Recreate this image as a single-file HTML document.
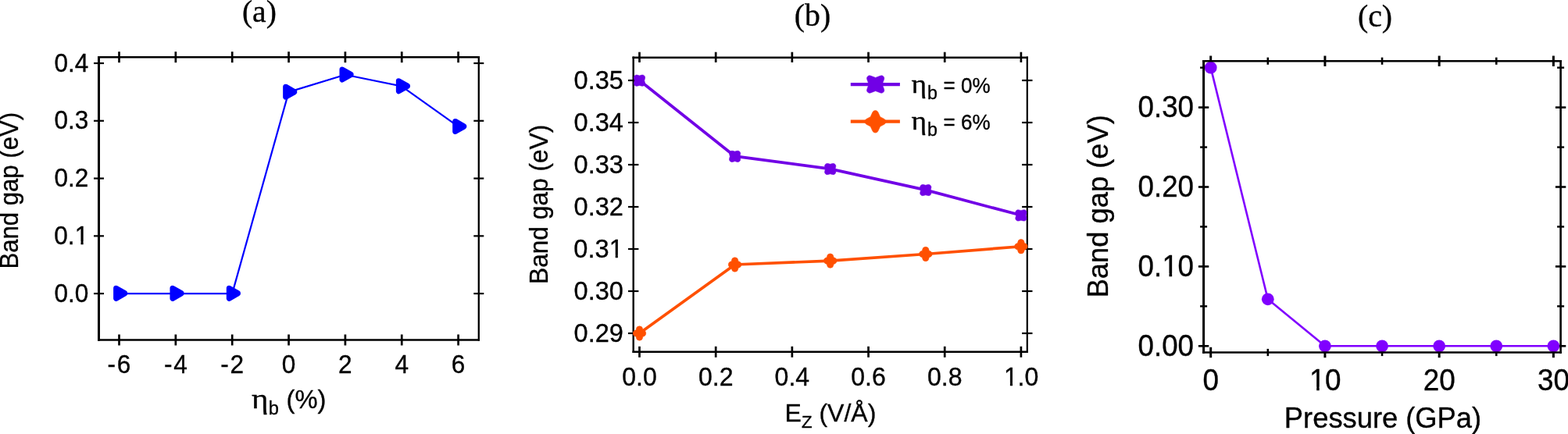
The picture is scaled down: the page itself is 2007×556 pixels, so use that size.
<!DOCTYPE html>
<html lang="en">
<head>
<meta charset="utf-8">
<title>Band gap figure</title>
<style>
html,body{margin:0;padding:0;background:#fff;}
body{width:2007px;height:556px;overflow:hidden;}
svg{display:block;}
text{fill:#000;stroke:#000;stroke-width:0.35px;stroke-linejoin:round;}
.s{font-family:"Liberation Sans", sans-serif;}
.r{font-family:"Liberation Serif", serif;}
</style>
</head>
<body>
<svg width="2007" height="556" viewBox="0 0 2007 556">
<rect x="0" y="0" width="2007" height="556" fill="#ffffff"/>
<g id="plot-a">
<text class="r" x="331.9" y="27.6" font-size="39.6" text-anchor="middle" >(a)</text>
<line x1="126.5" y1="71.9" x2="126.5" y2="436.75" stroke="#000" stroke-width="3" />
<line x1="612.8" y1="71.9" x2="612.8" y2="436.75" stroke="#000" stroke-width="2.3" />
<line x1="125" y1="73.2" x2="613.95" y2="73.2" stroke="#000" stroke-width="2.6" />
<line x1="125" y1="435.5" x2="613.95" y2="435.5" stroke="#000" stroke-width="2.5" />
<line x1="152.5" y1="66.2" x2="152.5" y2="80.2" stroke="#000" stroke-width="2.7" />
<line x1="152.5" y1="428.5" x2="152.5" y2="442.5" stroke="#000" stroke-width="2.7" />
<text class="s" transform="translate(152.5,478.2) scale(0.972,1)" font-size="32.5" text-anchor="middle" >-<tspan dx="1.8">6</tspan></text>
<line x1="224.85" y1="66.2" x2="224.85" y2="80.2" stroke="#000" stroke-width="2.7" />
<line x1="224.85" y1="428.5" x2="224.85" y2="442.5" stroke="#000" stroke-width="2.7" />
<text class="s" transform="translate(224.85,478.2) scale(0.972,1)" font-size="32.5" text-anchor="middle" >-<tspan dx="1.8">4</tspan></text>
<line x1="297.2" y1="66.2" x2="297.2" y2="80.2" stroke="#000" stroke-width="2.7" />
<line x1="297.2" y1="428.5" x2="297.2" y2="442.5" stroke="#000" stroke-width="2.7" />
<text class="s" transform="translate(297.2,478.2) scale(0.972,1)" font-size="32.5" text-anchor="middle" >-<tspan dx="1.8">2</tspan></text>
<line x1="369.55" y1="66.2" x2="369.55" y2="80.2" stroke="#000" stroke-width="2.7" />
<line x1="369.55" y1="428.5" x2="369.55" y2="442.5" stroke="#000" stroke-width="2.7" />
<text class="s" transform="translate(369.55,478.2) scale(0.972,1)" font-size="32.5" text-anchor="middle" >0</text>
<line x1="441.9" y1="66.2" x2="441.9" y2="80.2" stroke="#000" stroke-width="2.7" />
<line x1="441.9" y1="428.5" x2="441.9" y2="442.5" stroke="#000" stroke-width="2.7" />
<text class="s" transform="translate(441.9,478.2) scale(0.972,1)" font-size="32.5" text-anchor="middle" >2</text>
<line x1="514.25" y1="66.2" x2="514.25" y2="80.2" stroke="#000" stroke-width="2.7" />
<line x1="514.25" y1="428.5" x2="514.25" y2="442.5" stroke="#000" stroke-width="2.7" />
<text class="s" transform="translate(514.25,478.2) scale(0.972,1)" font-size="32.5" text-anchor="middle" >4</text>
<line x1="586.6" y1="66.2" x2="586.6" y2="80.2" stroke="#000" stroke-width="2.7" />
<line x1="586.6" y1="428.5" x2="586.6" y2="442.5" stroke="#000" stroke-width="2.7" />
<text class="s" transform="translate(586.6,478.2) scale(0.972,1)" font-size="32.5" text-anchor="middle" >6</text>
<line x1="120" y1="376.1" x2="133" y2="376.1" stroke="#000" stroke-width="2.2" />
<line x1="606.3" y1="376.1" x2="619.3" y2="376.1" stroke="#000" stroke-width="2.2" />
<text class="s" transform="translate(113.4,386.7) scale(0.972,1)" font-size="32.5" text-anchor="end" >0.0</text>
<line x1="120" y1="302.33" x2="133" y2="302.33" stroke="#000" stroke-width="2.2" />
<line x1="606.3" y1="302.33" x2="619.3" y2="302.33" stroke="#000" stroke-width="2.2" />
<text class="s" transform="translate(113.4,312.93) scale(0.972,1)" font-size="32.5" text-anchor="end" >0.<tspan dx="0.3">1</tspan></text>
<rect x="96.32" y="309.40" width="7.14" height="5.03" fill="#fff"/>
<rect x="106.65" y="309.40" width="6.89" height="5.03" fill="#fff"/>
<line x1="120" y1="228.56" x2="133" y2="228.56" stroke="#000" stroke-width="2.2" />
<line x1="606.3" y1="228.56" x2="619.3" y2="228.56" stroke="#000" stroke-width="2.2" />
<text class="s" transform="translate(113.4,239.16) scale(0.972,1)" font-size="32.5" text-anchor="end" >0.2</text>
<line x1="120" y1="154.79" x2="133" y2="154.79" stroke="#000" stroke-width="2.2" />
<line x1="606.3" y1="154.79" x2="619.3" y2="154.79" stroke="#000" stroke-width="2.2" />
<text class="s" transform="translate(113.4,165.39) scale(0.972,1)" font-size="32.5" text-anchor="end" >0.3</text>
<line x1="120" y1="81.02" x2="133" y2="81.02" stroke="#000" stroke-width="2.2" />
<line x1="606.3" y1="81.02" x2="619.3" y2="81.02" stroke="#000" stroke-width="2.2" />
<text class="s" transform="translate(113.4,91.62) scale(0.972,1)" font-size="32.5" text-anchor="end" >0.4</text>
<polyline points="152.5,376.1 224.85,376.1 297.2,376.1 369.55,117.91 441.9,95.77 514.25,110.53 586.6,162.17" fill="none" stroke="#0000ff" stroke-width="2.2" stroke-linejoin="round"/>
<path d="M148.6,369.35 L159.8,375.65 L159.8,376.05 L148.6,382.35 Z" fill="#0000ff" stroke="#0000ff" stroke-width="7" stroke-linejoin="round"/>
<path d="M220.95,369.35 L232.15,375.65 L232.15,376.05 L220.95,382.35 Z" fill="#0000ff" stroke="#0000ff" stroke-width="7" stroke-linejoin="round"/>
<path d="M293.3,369.35 L304.5,375.65 L304.5,376.05 L293.3,382.35 Z" fill="#0000ff" stroke="#0000ff" stroke-width="7" stroke-linejoin="round"/>
<path d="M365.65,111.16 L376.85,117.46 L376.85,117.86 L365.65,124.16 Z" fill="#0000ff" stroke="#0000ff" stroke-width="7" stroke-linejoin="round"/>
<path d="M438,89.02 L449.2,95.32 L449.2,95.72 L438,102.02 Z" fill="#0000ff" stroke="#0000ff" stroke-width="7" stroke-linejoin="round"/>
<path d="M510.35,103.78 L521.55,110.08 L521.55,110.48 L510.35,116.78 Z" fill="#0000ff" stroke="#0000ff" stroke-width="7" stroke-linejoin="round"/>
<path d="M582.7,155.42 L593.9,161.72 L593.9,162.12 L582.7,168.42 Z" fill="#0000ff" stroke="#0000ff" stroke-width="7" stroke-linejoin="round"/>
<text class="s" font-size="33" text-anchor="start" transform="translate(23,344.6) rotate(-90)" textLength="200.7" lengthAdjust="spacingAndGlyphs">Band gap (eV)</text>
<text class="r" transform="translate(321.9,523.3) scale(1.15,1)" font-size="35.6" text-anchor="start" stroke="none">η</text>
<text class="s" transform="translate(343.8,531.4) scale(0.96,1)" font-size="24.6" text-anchor="start" stroke-width="0.6">b</text>
<text class="s" transform="translate(366.6,523.3) scale(0.992,1)" font-size="33" text-anchor="start" >(%)</text>
</g>
<g id="plot-b">
<text class="r" x="1040" y="32.5" font-size="39.8" text-anchor="middle" >(b)</text>
<line x1="810.7" y1="72.5" x2="810.7" y2="452" stroke="#000" stroke-width="2.4" />
<line x1="1314.8" y1="72.5" x2="1314.8" y2="452" stroke="#000" stroke-width="2.2" />
<line x1="809.5" y1="73.7" x2="1315.9" y2="73.7" stroke="#000" stroke-width="2.4" />
<line x1="809.5" y1="450.8" x2="1315.9" y2="450.8" stroke="#000" stroke-width="2.4" />
<line x1="818.5" y1="66.7" x2="818.5" y2="79.9" stroke="#000" stroke-width="2.7" />
<line x1="818.5" y1="443.8" x2="818.5" y2="457.8" stroke="#000" stroke-width="2.7" />
<text class="s" transform="translate(818.5,493.9) scale(0.972,1)" font-size="33" text-anchor="middle" >0.0</text>
<line x1="916.18" y1="66.7" x2="916.18" y2="79.9" stroke="#000" stroke-width="2.7" />
<line x1="916.18" y1="443.8" x2="916.18" y2="457.8" stroke="#000" stroke-width="2.7" />
<text class="s" transform="translate(916.18,493.9) scale(0.972,1)" font-size="33" text-anchor="middle" >0.2</text>
<line x1="1013.86" y1="66.7" x2="1013.86" y2="79.9" stroke="#000" stroke-width="2.7" />
<line x1="1013.86" y1="443.8" x2="1013.86" y2="457.8" stroke="#000" stroke-width="2.7" />
<text class="s" transform="translate(1013.86,493.9) scale(0.972,1)" font-size="33" text-anchor="middle" >0.4</text>
<line x1="1111.54" y1="66.7" x2="1111.54" y2="79.9" stroke="#000" stroke-width="2.7" />
<line x1="1111.54" y1="443.8" x2="1111.54" y2="457.8" stroke="#000" stroke-width="2.7" />
<text class="s" transform="translate(1111.54,493.9) scale(0.972,1)" font-size="33" text-anchor="middle" >0.6</text>
<line x1="1209.22" y1="66.7" x2="1209.22" y2="79.9" stroke="#000" stroke-width="2.7" />
<line x1="1209.22" y1="443.8" x2="1209.22" y2="457.8" stroke="#000" stroke-width="2.7" />
<text class="s" transform="translate(1209.22,493.9) scale(0.972,1)" font-size="33" text-anchor="middle" >0.8</text>
<line x1="1306.9" y1="66.7" x2="1306.9" y2="79.9" stroke="#000" stroke-width="2.7" />
<line x1="1306.9" y1="443.8" x2="1306.9" y2="457.8" stroke="#000" stroke-width="2.7" />
<text class="s" transform="translate(1306.9,493.9) scale(0.972,1)" font-size="33" text-anchor="middle" ><tspan dx="0.3">1</tspan><tspan dx="-0.3">.</tspan>0</text>
<rect x="1285.67" y="490.33" width="7.22" height="5.07" fill="#fff"/>
<rect x="1296.06" y="490.33" width="6.97" height="5.07" fill="#fff"/>
<line x1="804" y1="427" x2="817.4" y2="427" stroke="#000" stroke-width="2.2" />
<line x1="1308.1" y1="427" x2="1321.5" y2="427" stroke="#000" stroke-width="2.2" />
<text class="s" transform="translate(797.9,438.2) scale(0.986,1)" font-size="33" text-anchor="end" >0.29</text>
<line x1="804" y1="373" x2="817.4" y2="373" stroke="#000" stroke-width="2.2" />
<line x1="1308.1" y1="373" x2="1321.5" y2="373" stroke="#000" stroke-width="2.2" />
<text class="s" transform="translate(797.9,384.2) scale(0.986,1)" font-size="33" text-anchor="end" >0.30</text>
<line x1="804" y1="319" x2="817.4" y2="319" stroke="#000" stroke-width="2.2" />
<line x1="1308.1" y1="319" x2="1321.5" y2="319" stroke="#000" stroke-width="2.2" />
<text class="s" transform="translate(797.9,330.2) scale(0.986,1)" font-size="33" text-anchor="end" >0.3<tspan dx="0.3">1</tspan></text>
<rect x="780.40" y="326.63" width="7.30" height="5.07" fill="#fff"/>
<rect x="790.86" y="326.63" width="7.05" height="5.07" fill="#fff"/>
<line x1="804" y1="265" x2="817.4" y2="265" stroke="#000" stroke-width="2.2" />
<line x1="1308.1" y1="265" x2="1321.5" y2="265" stroke="#000" stroke-width="2.2" />
<text class="s" transform="translate(797.9,276.2) scale(0.986,1)" font-size="33" text-anchor="end" >0.32</text>
<line x1="804" y1="211" x2="817.4" y2="211" stroke="#000" stroke-width="2.2" />
<line x1="1308.1" y1="211" x2="1321.5" y2="211" stroke="#000" stroke-width="2.2" />
<text class="s" transform="translate(797.9,222.2) scale(0.986,1)" font-size="33" text-anchor="end" >0.33</text>
<line x1="804" y1="157" x2="817.4" y2="157" stroke="#000" stroke-width="2.2" />
<line x1="1308.1" y1="157" x2="1321.5" y2="157" stroke="#000" stroke-width="2.2" />
<text class="s" transform="translate(797.9,168.2) scale(0.986,1)" font-size="33" text-anchor="end" >0.34</text>
<line x1="804" y1="103" x2="817.4" y2="103" stroke="#000" stroke-width="2.2" />
<line x1="1308.1" y1="103" x2="1321.5" y2="103" stroke="#000" stroke-width="2.2" />
<text class="s" transform="translate(797.9,114.2) scale(0.986,1)" font-size="33" text-anchor="end" >0.35</text>
<polyline points="818.5,103 940.6,200.2 1062.7,216.4 1184.8,243.4 1306.9,275.8" fill="none" stroke="#7100e6" stroke-width="3.7" stroke-linejoin="round"/>
<path d="M818.5,96.9 L821.35,96.12 A3.4,3.4 0 0 1 825.53,100.3 L824.75,103.15 L825.53,106 A3.4,3.4 0 0 1 821.35,110.18 L818.5,109.4 L815.65,110.18 A3.4,3.4 0 0 1 811.47,106 L812.25,103.15 L811.47,100.3 A3.4,3.4 0 0 1 815.65,96.12 L818.5,96.9 Z" fill="#7100e6" stroke="#7100e6" stroke-width="0.6" stroke-linejoin="round"/>
<path d="M940.6,194.1 L943.45,193.32 A3.4,3.4 0 0 1 947.63,197.5 L946.85,200.35 L947.63,203.2 A3.4,3.4 0 0 1 943.45,207.38 L940.6,206.6 L937.75,207.38 A3.4,3.4 0 0 1 933.57,203.2 L934.35,200.35 L933.57,197.5 A3.4,3.4 0 0 1 937.75,193.32 L940.6,194.1 Z" fill="#7100e6" stroke="#7100e6" stroke-width="0.6" stroke-linejoin="round"/>
<path d="M1062.7,210.3 L1065.55,209.52 A3.4,3.4 0 0 1 1069.73,213.7 L1068.95,216.55 L1069.73,219.4 A3.4,3.4 0 0 1 1065.55,223.58 L1062.7,222.8 L1059.85,223.58 A3.4,3.4 0 0 1 1055.67,219.4 L1056.45,216.55 L1055.67,213.7 A3.4,3.4 0 0 1 1059.85,209.52 L1062.7,210.3 Z" fill="#7100e6" stroke="#7100e6" stroke-width="0.6" stroke-linejoin="round"/>
<path d="M1184.8,237.3 L1187.65,236.52 A3.4,3.4 0 0 1 1191.83,240.7 L1191.05,243.55 L1191.83,246.4 A3.4,3.4 0 0 1 1187.65,250.58 L1184.8,249.8 L1181.95,250.58 A3.4,3.4 0 0 1 1177.77,246.4 L1178.55,243.55 L1177.77,240.7 A3.4,3.4 0 0 1 1181.95,236.52 L1184.8,237.3 Z" fill="#7100e6" stroke="#7100e6" stroke-width="0.6" stroke-linejoin="round"/>
<path d="M1306.9,269.7 L1309.75,268.92 A3.4,3.4 0 0 1 1313.93,273.1 L1313.15,275.95 L1313.93,278.8 A3.4,3.4 0 0 1 1309.75,282.98 L1306.9,282.2 L1304.05,282.98 A3.4,3.4 0 0 1 1299.87,278.8 L1300.65,275.95 L1299.87,273.1 A3.4,3.4 0 0 1 1304.05,268.92 L1306.9,269.7 Z" fill="#7100e6" stroke="#7100e6" stroke-width="0.6" stroke-linejoin="round"/>
<polyline points="818.5,427 940.6,338.98 1062.7,334.12 1184.8,325.48 1306.9,315.76" fill="none" stroke="#ff5000" stroke-width="3.7" stroke-linejoin="round"/>
<path d="M814.19,422.69 L814.33,421.53 A4.2,4.2 0 0 1 822.67,421.53 L822.81,422.69 L823.79,422.99 A4.2,4.2 0 0 1 823.79,431.01 L822.81,431.31 L822.67,432.47 A4.2,4.2 0 0 1 814.33,432.47 L814.19,431.31 L813.21,431.01 A4.2,4.2 0 0 1 813.21,422.99 L814.19,422.69 Z" fill="#ff5000" stroke="#ff5000" stroke-width="0.6" stroke-linejoin="round"/>
<path d="M936.29,334.67 L936.43,333.51 A4.2,4.2 0 0 1 944.77,333.51 L944.91,334.67 L945.89,334.97 A4.2,4.2 0 0 1 945.89,342.99 L944.91,343.29 L944.77,344.45 A4.2,4.2 0 0 1 936.43,344.45 L936.29,343.29 L935.31,342.99 A4.2,4.2 0 0 1 935.31,334.97 L936.29,334.67 Z" fill="#ff5000" stroke="#ff5000" stroke-width="0.6" stroke-linejoin="round"/>
<path d="M1058.39,329.81 L1058.53,328.65 A4.2,4.2 0 0 1 1066.87,328.65 L1067.01,329.81 L1067.99,330.11 A4.2,4.2 0 0 1 1067.99,338.13 L1067.01,338.43 L1066.87,339.59 A4.2,4.2 0 0 1 1058.53,339.59 L1058.39,338.43 L1057.41,338.13 A4.2,4.2 0 0 1 1057.41,330.11 L1058.39,329.81 Z" fill="#ff5000" stroke="#ff5000" stroke-width="0.6" stroke-linejoin="round"/>
<path d="M1180.49,321.17 L1180.63,320.01 A4.2,4.2 0 0 1 1188.97,320.01 L1189.11,321.17 L1190.09,321.47 A4.2,4.2 0 0 1 1190.09,329.49 L1189.11,329.79 L1188.97,330.95 A4.2,4.2 0 0 1 1180.63,330.95 L1180.49,329.79 L1179.51,329.49 A4.2,4.2 0 0 1 1179.51,321.47 L1180.49,321.17 Z" fill="#ff5000" stroke="#ff5000" stroke-width="0.6" stroke-linejoin="round"/>
<path d="M1302.59,311.45 L1302.73,310.29 A4.2,4.2 0 0 1 1311.07,310.29 L1311.21,311.45 L1312.19,311.75 A4.2,4.2 0 0 1 1312.19,319.77 L1311.21,320.07 L1311.07,321.23 A4.2,4.2 0 0 1 1302.73,321.23 L1302.59,320.07 L1301.61,319.77 A4.2,4.2 0 0 1 1301.61,311.75 L1302.59,311.45 Z" fill="#ff5000" stroke="#ff5000" stroke-width="0.6" stroke-linejoin="round"/>
<line x1="1088.8" y1="108.1" x2="1151.9" y2="108.1" stroke="#7100e6" stroke-width="4.2" />
<path d="M1120.65,99.42 L1127.05,97.07 A3.53,3.53 0 0 1 1131.58,101.6 L1129.23,108 L1131.58,114.4 A3.53,3.53 0 0 1 1127.05,118.93 L1120.65,116.58 L1114.25,118.93 A3.53,3.53 0 0 1 1109.72,114.4 L1112.07,108 L1109.72,101.6 A3.53,3.53 0 0 1 1114.25,97.07 L1120.65,99.42 Z" fill="#7100e6" stroke="#7100e6" stroke-width="0.6" stroke-linejoin="round"/>
<line x1="1088.8" y1="155.6" x2="1151.9" y2="155.6" stroke="#ff5000" stroke-width="4.2" />
<path d="M1114.18,149.63 L1116.86,143.85 A3.9,3.9 0 0 1 1123.94,143.85 L1126.62,149.63 L1131.84,152.41 A3.9,3.9 0 0 1 1131.84,159.29 L1126.62,162.07 L1123.94,167.85 A3.9,3.9 0 0 1 1116.86,167.85 L1114.18,162.07 L1108.96,159.29 A3.9,3.9 0 0 1 1108.96,152.41 L1114.18,149.63 Z" fill="#ff5000" stroke="#ff5000" stroke-width="0.6" stroke-linejoin="round"/>
<text class="r" transform="translate(1166.5,118.7) scale(1.1,1)" font-size="34" text-anchor="start" stroke="none">η</text>
<text class="s" transform="translate(1186.9,126.8) scale(0.955,1)" font-size="24.3" text-anchor="start" >b</text>
<text class="s" transform="translate(1207.6,118.7) scale(0.94,1)" font-size="27.7" text-anchor="start" >= 0%</text>
<text class="r" transform="translate(1166.5,165.5) scale(1.1,1)" font-size="34" text-anchor="start" stroke="none">η</text>
<text class="s" transform="translate(1186.9,173.6) scale(0.955,1)" font-size="24.3" text-anchor="start" >b</text>
<text class="s" transform="translate(1207.6,165.5) scale(0.94,1)" font-size="27.7" text-anchor="start" >= 6%</text>
<text class="s" font-size="32.5" text-anchor="start" transform="translate(701,364) rotate(-90)" textLength="204.3" lengthAdjust="spacingAndGlyphs">Band gap (eV)</text>
<text x="1004.6" y="540.3" font-size="32"><tspan class="s">E</tspan><tspan class="s" font-size="22.3" dx="0" dy="7.3">Z</tspan><tspan class="s" dy="-7.3"> (V/Å)</tspan></text>
</g>
<g id="plot-c">
<text class="r" x="1760" y="34" font-size="39.8" text-anchor="middle" >(c)</text>
<line x1="1549.7" y1="71.5" x2="1549.7" y2="84.9" stroke="#000" stroke-width="3" />
<line x1="1549.7" y1="444.8" x2="1549.7" y2="458.2" stroke="#000" stroke-width="3" />
<text class="s" transform="translate(1549.7,499.5) scale(0.965,1)" font-size="38.2" text-anchor="middle" >0</text>
<line x1="1622.82" y1="73.6" x2="1622.82" y2="82.8" stroke="#000" stroke-width="2.6" />
<line x1="1622.82" y1="446.9" x2="1622.82" y2="456.1" stroke="#000" stroke-width="2.6" />
<line x1="1695.93" y1="71.5" x2="1695.93" y2="84.9" stroke="#000" stroke-width="3" />
<line x1="1695.93" y1="444.8" x2="1695.93" y2="458.2" stroke="#000" stroke-width="3" />
<text class="s" transform="translate(1695.93,499.5) scale(0.965,1)" font-size="38.2" text-anchor="middle" ><tspan dx="0.3">1</tspan><tspan dx="-0.3">0</tspan></text>
<rect x="1677.13" y="495.55" width="8.06" height="5.45" fill="#fff"/>
<rect x="1688.69" y="495.55" width="7.77" height="5.45" fill="#fff"/>
<line x1="1769.05" y1="73.6" x2="1769.05" y2="82.8" stroke="#000" stroke-width="2.6" />
<line x1="1769.05" y1="446.9" x2="1769.05" y2="456.1" stroke="#000" stroke-width="2.6" />
<line x1="1842.16" y1="71.5" x2="1842.16" y2="84.9" stroke="#000" stroke-width="3" />
<line x1="1842.16" y1="444.8" x2="1842.16" y2="458.2" stroke="#000" stroke-width="3" />
<text class="s" transform="translate(1842.16,499.5) scale(0.965,1)" font-size="38.2" text-anchor="middle" >20</text>
<line x1="1915.28" y1="73.6" x2="1915.28" y2="82.8" stroke="#000" stroke-width="2.6" />
<line x1="1915.28" y1="446.9" x2="1915.28" y2="456.1" stroke="#000" stroke-width="2.6" />
<line x1="1988.39" y1="71.5" x2="1988.39" y2="84.9" stroke="#000" stroke-width="3" />
<line x1="1988.39" y1="444.8" x2="1988.39" y2="458.2" stroke="#000" stroke-width="3" />
<text class="s" transform="translate(1988.39,499.5) scale(0.965,1)" font-size="38.2" text-anchor="middle" >30</text>
<line x1="1533.9" y1="443.3" x2="1547.3" y2="443.3" stroke="#000" stroke-width="2.6" />
<line x1="1990.9" y1="443.3" x2="2004.3" y2="443.3" stroke="#000" stroke-width="2.6" />
<text class="s" transform="translate(1528,456.1) scale(0.962,1)" font-size="38.2" text-anchor="end" >0.00</text>
<line x1="1536.1" y1="392.35" x2="1545.1" y2="392.35" stroke="#000" stroke-width="2.4" />
<line x1="1993.1" y1="392.35" x2="2002.1" y2="392.35" stroke="#000" stroke-width="2.4" />
<line x1="1533.9" y1="341.4" x2="1547.3" y2="341.4" stroke="#000" stroke-width="2.6" />
<line x1="1990.9" y1="341.4" x2="2004.3" y2="341.4" stroke="#000" stroke-width="2.6" />
<text class="s" transform="translate(1528,354.2) scale(0.962,1)" font-size="38.2" text-anchor="end" >0.<tspan dx="0.3">1</tspan><tspan dx="-0.3">0</tspan></text>
<rect x="1488.45" y="350.25" width="8.04" height="5.45" fill="#fff"/>
<rect x="1500.15" y="350.25" width="7.75" height="5.45" fill="#fff"/>
<line x1="1536.1" y1="290.45" x2="1545.1" y2="290.45" stroke="#000" stroke-width="2.4" />
<line x1="1993.1" y1="290.45" x2="2002.1" y2="290.45" stroke="#000" stroke-width="2.4" />
<line x1="1533.9" y1="239.5" x2="1547.3" y2="239.5" stroke="#000" stroke-width="2.6" />
<line x1="1990.9" y1="239.5" x2="2004.3" y2="239.5" stroke="#000" stroke-width="2.6" />
<text class="s" transform="translate(1528,252.3) scale(0.962,1)" font-size="38.2" text-anchor="end" >0.20</text>
<line x1="1536.1" y1="188.55" x2="1545.1" y2="188.55" stroke="#000" stroke-width="2.4" />
<line x1="1993.1" y1="188.55" x2="2002.1" y2="188.55" stroke="#000" stroke-width="2.4" />
<line x1="1533.9" y1="137.6" x2="1547.3" y2="137.6" stroke="#000" stroke-width="2.6" />
<line x1="1990.9" y1="137.6" x2="2004.3" y2="137.6" stroke="#000" stroke-width="2.6" />
<text class="s" transform="translate(1528,150.4) scale(0.962,1)" font-size="38.2" text-anchor="end" >0.30</text>
<line x1="1536.1" y1="86.65" x2="1545.1" y2="86.65" stroke="#000" stroke-width="2.4" />
<line x1="1993.1" y1="86.65" x2="2002.1" y2="86.65" stroke="#000" stroke-width="2.4" />
<polyline points="1549.7,86.65 1622.82,383.28 1695.93,443.3 1769.05,443.3 1842.16,443.3 1915.28,443.3 1988.39,443.3" fill="none" stroke="#8000ff" stroke-width="2.6" stroke-linejoin="round"/>
<circle cx="1549.7" cy="86.65" r="7.9" fill="#8000ff"/>
<circle cx="1622.82" cy="383.28" r="7.9" fill="#8000ff"/>
<circle cx="1695.93" cy="443.3" r="7.9" fill="#8000ff"/>
<circle cx="1769.05" cy="443.3" r="7.9" fill="#8000ff"/>
<circle cx="1842.16" cy="443.3" r="7.9" fill="#8000ff"/>
<circle cx="1915.28" cy="443.3" r="7.9" fill="#8000ff"/>
<circle cx="1988.39" cy="443.3" r="7.9" fill="#8000ff"/>
<line x1="1540.6" y1="76.9" x2="1540.6" y2="452.75" stroke="#000" stroke-width="3" />
<line x1="1997.6" y1="76.9" x2="1997.6" y2="452.75" stroke="#000" stroke-width="2.6" />
<line x1="1539.1" y1="78.2" x2="1998.9" y2="78.2" stroke="#000" stroke-width="2.6" />
<line x1="1539.1" y1="451.5" x2="1998.9" y2="451.5" stroke="#000" stroke-width="2.5" />
<text class="s" font-size="37.6" text-anchor="start" transform="translate(1418.4,381.35) rotate(-90)" textLength="234.2" lengthAdjust="spacingAndGlyphs">Band gap (eV)</text>
<text class="s" transform="translate(1770,547.8) scale(0.99,1)" font-size="36.7" text-anchor="middle" >Pressure (GPa)</text>
</g>
</svg>
</body>
</html>
